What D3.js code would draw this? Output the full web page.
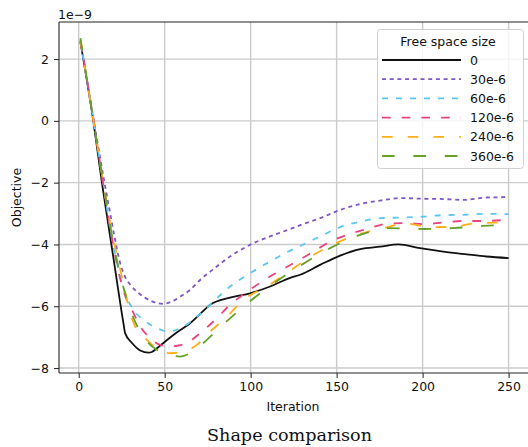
<!DOCTYPE html>
<html>
<head>
<meta charset="utf-8">
<script src="https://cdn.jsdelivr.net/npm/d3@7"></script>
<style>
  html, body { margin: 0; padding: 0; background: #fff; }
  svg { display: block; }
  text { font-family: "DejaVu Sans", sans-serif; }
  text.title { font-family: "DejaVu Serif", serif; }
</style>
</head>
<body>
<svg id="chart" width="528" height="447"></svg>
<script>
// ---- data ----
const seriesNames = ["0", "30e-6", "60e-6", "120e-6", "240e-6", "360e-6"];
const seriesColors = ["#111111", "#7e57c2", "#5cc6f0", "#e8457e", "#ffae1a", "#66a22a"];
const seriesDashes = [null, "4,3.7", "6,8", "8.7,11", "10.7,15", "12.7,18.7"];

const s0 = [[1,2.55],[8.5,0],[13.5,-2.0],[20,-4.36],[26,-6.54],[27,-6.87],[31,-7.19],[35.8,-7.43],[40.6,-7.5],[42.5,-7.48],[45.5,-7.36],[50.3,-7.14],[57,-6.85],[64.8,-6.55],[70.6,-6.25],[76.5,-5.95],[88,-5.72],[99.7,-5.58],[111.3,-5.36],[123,-5.08],[128.8,-4.98],[140.4,-4.66],[152,-4.36],[163.7,-4.15],[175.3,-4.07],[186,-4.0],[198.5,-4.12],[212,-4.23],[225.7,-4.32],[237,-4.39],[250,-4.44]];
const s30 = [[1,2.6],[8.8,0],[15,-2.0],[18.3,-2.99],[21,-3.8],[24.1,-4.6],[27,-5.05],[30.9,-5.36],[37.7,-5.69],[43,-5.85],[49.3,-5.92],[54,-5.85],[59,-5.69],[64.8,-5.47],[70.6,-5.15],[76.5,-4.88],[88,-4.39],[99.7,-4.01],[111.3,-3.74],[123,-3.5],[130,-3.35],[140.4,-3.15],[152,-2.88],[163.7,-2.69],[175.3,-2.58],[187,-2.5],[200.5,-2.52],[212,-2.53],[223.7,-2.56],[237,-2.48],[250,-2.47]];
const s60 = [[1,2.6],[8.7,0],[14,-1.95],[20,-4.0],[24,-5.0],[27,-5.58],[31.9,-6.12],[37.7,-6.44],[45.5,-6.71],[52.2,-6.82],[59,-6.71],[64.8,-6.52],[70.6,-6.25],[76.5,-5.95],[88,-5.36],[99.7,-4.93],[111.3,-4.55],[123,-4.2],[128.8,-4.05],[140.4,-3.74],[152,-3.44],[163.7,-3.26],[175.3,-3.15],[187,-3.13],[200.5,-3.1],[212,-3.05],[223.7,-3.04],[237,-3.01],[250,-3.02]];
const s120 = [[1,2.6],[8.7,0],[14,-1.95],[20,-4.0],[25,-5.3],[28,-5.8],[31.9,-6.22],[35.8,-6.66],[40.6,-6.98],[47.4,-7.25],[53.2,-7.3],[58,-7.27],[62.9,-7.19],[70.6,-6.87],[80.3,-6.39],[88,-5.95],[96.8,-5.58],[106.5,-5.2],[116.2,-4.88],[126.8,-4.55],[136.5,-4.23],[146.2,-3.91],[156,-3.69],[167.6,-3.5],[179.2,-3.33],[190.8,-3.31],[200.5,-3.34],[212,-3.29],[223.7,-3.24],[234,-3.24],[250,-3.2]];
const s240 = [[1,2.62],[8.6,0],[14,-1.9],[18.3,-3.31],[25.1,-5.04],[29,-6.0],[32.8,-6.66],[39.6,-7.09],[45.5,-7.36],[53.2,-7.52],[60.9,-7.47],[68.7,-7.25],[75.5,-6.87],[86.2,-6.34],[95.8,-5.79],[109.4,-5.36],[121,-4.93],[132.7,-4.47],[146.2,-4.05],[161.7,-3.69],[177.2,-3.47],[190.8,-3.33],[204,-3.44],[217.6,-3.43],[231.5,-3.31],[250,-3.29]];
const s360 = [[1,2.68],[8.6,0],[14,-1.9],[20,-3.9],[27,-5.58],[32.8,-6.5],[40.6,-7.19],[45.5,-7.41],[52,-7.55],[59,-7.63],[62.9,-7.57],[68,-7.4],[74.5,-7.09],[80,-6.8],[88,-6.39],[100.7,-5.79],[116.2,-5.15],[129,-4.68],[146.2,-4.12],[163.7,-3.69],[181,-3.47],[200.5,-3.5],[217.9,-3.47],[235.3,-3.4],[250,-3.37]];
const seriesData = [s0, s30, s60, s120, s240, s360];

const xTicks = [0, 50, 100, 150, 200, 250];
const yTicks = [-8, -6, -4, -2, 0, 2];
const xDomain = [-11.45, 262.45];
const yDomain = [-8.16, 3.2];

// ---- layout ----
const svg = d3.select("#chart");
const L = 59, R = 530, T = 22, B = 373;

const x = d3.scaleLinear().domain(xDomain).range([L, R]);
const y = d3.scaleLinear().domain(yDomain).range([B, T]);

svg.append("defs").append("clipPath").attr("id", "clip")
  .append("rect").attr("x", L).attr("y", T).attr("width", R - L).attr("height", B - T);

// grid
const grid = svg.append("g");
grid.selectAll(".gx").data(xTicks).join("line")
  .attr("x1", d => x(d)).attr("x2", d => x(d)).attr("y1", T).attr("y2", B)
  .attr("stroke", "#cbcbcb").attr("stroke-width", 1.4);
grid.selectAll(".gy").data(yTicks).join("line")
  .attr("y1", d => y(d)).attr("y2", d => y(d)).attr("x1", L).attr("x2", R)
  .attr("stroke", "#cbcbcb").attr("stroke-width", 1.4);

// lines
const line = d3.line().x(d => x(d[0])).y(d => y(d[1])).curve(d3.curveMonotoneX);
const plot = svg.append("g").attr("clip-path", "url(#clip)");
seriesData.forEach((s, i) => {
  plot.append("path").datum(s)
    .attr("d", line)
    .attr("fill", "none")
    .attr("stroke", seriesColors[i])
    .attr("stroke-width", 1.8)
    .attr("stroke-linejoin", "round")
    .attr("stroke-dasharray", seriesDashes[i]);
});

// axes
const fmt = d => (d < 0 ? "\u2212" + Math.abs(d) : String(d));
const xAxis = svg.append("g").attr("transform", `translate(0,${B})`)
  .call(d3.axisBottom(x).tickValues(xTicks).tickSize(5).tickPadding(4).tickFormat(fmt));
const yAxis = svg.append("g").attr("transform", `translate(${L},0)`)
  .call(d3.axisLeft(y).tickValues(yTicks).tickSize(5).tickPadding(5).tickFormat(fmt));
[xAxis, yAxis].forEach(a => {
  a.select(".domain").remove();
  a.selectAll("text").attr("font-family", null).attr("font-size", null)
    .style("font-size", "12.5px").attr("fill", "#111");
  a.selectAll("line").attr("stroke", "#222").attr("stroke-width", 1);
});

// spines
svg.append("line").attr("x1", L).attr("x2", L).attr("y1", T).attr("y2", B).attr("stroke", "#222").attr("stroke-width", 1.1);
svg.append("line").attr("x1", L).attr("x2", R).attr("y1", B).attr("y2", B).attr("stroke", "#222").attr("stroke-width", 1.1);
svg.append("line").attr("x1", L).attr("x2", R).attr("y1", T).attr("y2", T).attr("stroke", "#222").attr("stroke-width", 1.1);

// offset text
svg.append("text").attr("x", 58).attr("y", 19).attr("font-size", 12.5).attr("fill", "#111").text("1e\u22129");

// axis labels
svg.append("text").attr("x", (L + 527) / 2).attr("y", 411).attr("text-anchor", "middle")
  .attr("font-size", 12.5).attr("fill", "#111").text("Iteration");
svg.append("text").attr("transform", `translate(21,${(T + B) / 2}) rotate(-90)`)
  .attr("text-anchor", "middle").attr("font-size", 12.5).attr("fill", "#111").text("Objective");

// title
svg.append("text").attr("class", "title").attr("x", 289.5).attr("y", 440.5).attr("text-anchor", "middle")
  .attr("font-size", 16).attr("fill", "#111")
  .attr("textLength", 165).attr("lengthAdjust", "spacingAndGlyphs")
  .text("Shape comparison");

// legend
const lg = svg.append("g");
lg.append("rect").attr("x", 377.5).attr("y", 29.5).attr("width", 146).attr("height", 139).attr("rx", 3)
  .attr("fill", "#fff").attr("fill-opacity", 0.8).attr("stroke", "#d0d0d0").attr("stroke-width", 1);
lg.append("text").attr("x", 448).attr("y", 46).attr("text-anchor", "middle")
  .attr("font-size", 12.5).attr("fill", "#111").text("Free space size");
seriesNames.forEach((n, i) => {
  const yy = 60 + i * 19.2;
  lg.append("line").attr("x1", 382).attr("x2", 461).attr("y1", yy).attr("y2", yy)
    .attr("stroke", seriesColors[i]).attr("stroke-width", 1.8)
    .attr("stroke-dasharray", seriesDashes[i]);
  lg.append("text").attr("x", 470).attr("y", yy + 4.5)
    .attr("font-size", 12.5).attr("fill", "#111").text(n);
});
</script>
</body>
</html>
